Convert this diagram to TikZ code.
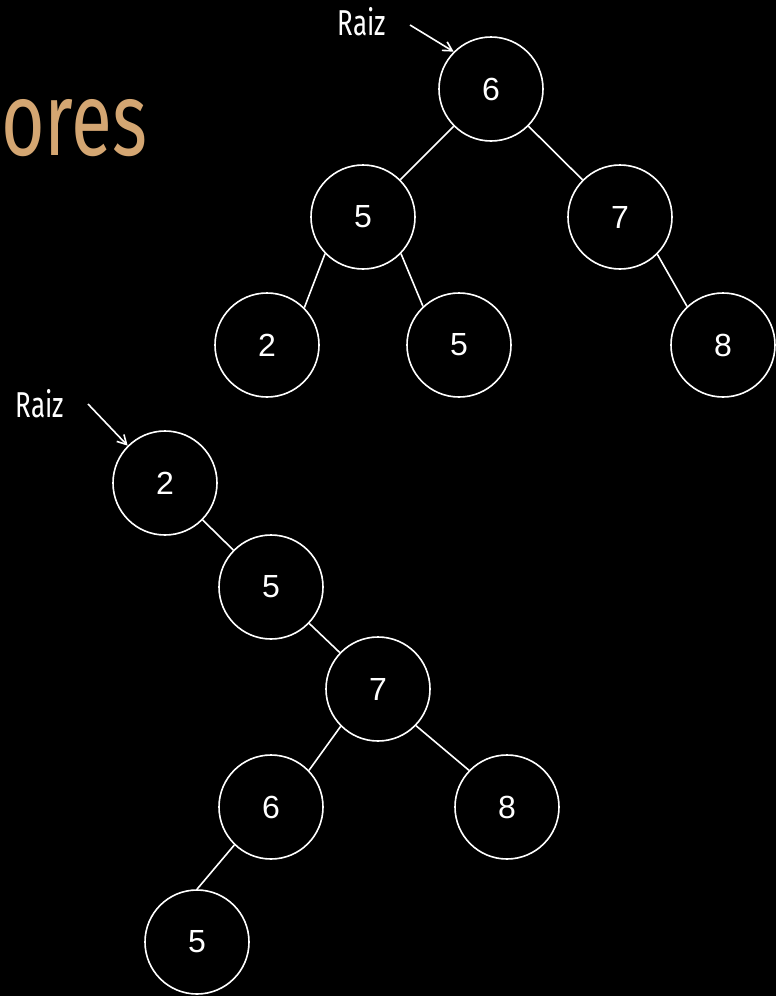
\documentclass[tikz,border=0pt]{standalone}
\usepackage{fontspec}
\setmainfont{Liberation Sans}
\newfontfamily\condfont[FakeStretch=0.72]{Fira Sans}
\usetikzlibrary{arrows.meta}
\definecolor{titlecol}{RGB}{212,166,114}
\begin{document}
\begin{tikzpicture}[x=1pt,y=-1pt,
  tnode/.style={circle,draw=white,line width=1.6pt,minimum size=104pt,inner sep=0pt,text=white,font=\fontsize{32}{36}\selectfont},
  edge/.style={draw=white,line width=1.6pt},
  rootlbl/.style={text=white,font=\condfont\fontsize{36}{40}\selectfont,inner sep=0pt},
  rootarrow/.style={draw=white,line width=1.6pt,-{Straight Barb[length=9pt,width=10pt]}}]
\fill[black] (0,0) rectangle (776,996);
\useasboundingbox (0,0) rectangle (776,996);
\node[text=titlecol,font=\condfont\fontsize{104}{110}\selectfont,anchor=base west,inner sep=0pt] (title) at (1,155) {ores};
% top tree
\node[tnode] (a6) at (491,89) {6};
\node[tnode] (a5) at (363,217) {5};
\node[tnode] (a7) at (620,217) {7};
\node[tnode] (a2) at (267,345) {2};
\node[tnode] (a5b) at (459,345) {5};
\node[tnode] (a8) at (723,345) {8};
\draw[edge] (a6) -- (a5);
\draw[edge] (a6) -- (a7);
\draw[edge] (a5.224) -- (a2.45);
\draw[edge] (a5.316) -- (a5b.133);
\draw[edge] (a7.315) -- (a8.133);
\node[rootlbl] (r1) at (362,22) {Raiz};
\coordinate (r1s) at (410,25);
\draw[rootarrow] (r1s) -- (a6.135);
% bottom tree
\node[tnode] (b2) at (165,483) {2};
\node[tnode] (b5) at (271,587) {5};
\node[tnode] (b7) at (378,689) {7};
\node[tnode] (b6) at (271,807) {6};
\node[tnode] (b8) at (507,807) {8};
\node[tnode] (b5b) at (197,942) {5};
\draw[edge] (b2) -- (b5);
\draw[edge] (b5) -- (b7);
\draw[edge] (b7.225) -- (b6.44);
\draw[edge] (b7.316) -- (b8.136);
\draw[edge] (b6.226) -- (b5b.90);
\node[rootlbl] (r2) at (40,404) {Raiz};
\coordinate (r2s) at (88,404);
\draw[rootarrow] (r2s) -- (b2.135);
\end{tikzpicture}
\end{document}
